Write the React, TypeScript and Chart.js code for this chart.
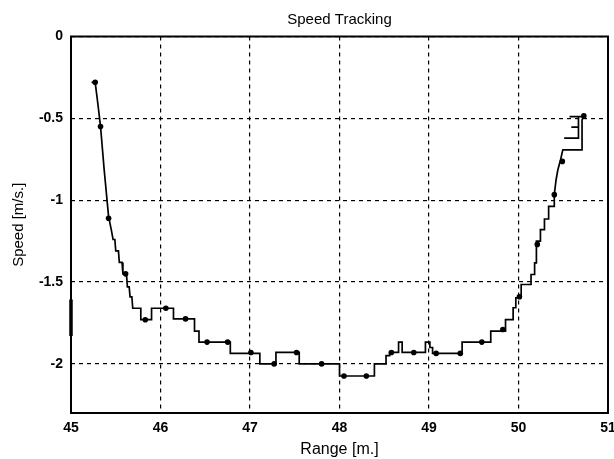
import React, { useEffect, useRef } from "react";
import { Chart, registerables } from "chart.js";

Chart.register(...registerables);

const chartTitle = "Speed Tracking";
const xTitle = "Range [m.]";
const yTitle = "Speed [m/s.]";
const xTicks = [45, 46, 47, 48, 49, 50, 51];
const yTicks = [0, -0.5, -1, -1.5, -2];
const yTickLabels = ["0", "-0.5", "-1", "-1.5", "-2"];

// staircase trace (range, speed)
const pathX = [
  45.23, 45.27, 45.3, 45.33, 45.37, 45.42, 45.45, 45.47, 45.49, 45.5, 45.53, 45.54, 45.57, 45.58,
  45.62, 45.63, 45.65, 45.66, 45.68, 45.69, 45.78, 45.78, 45.9, 45.9, 46.145, 46.145, 46.38, 46.38,
  46.43, 46.43, 46.78, 46.78, 47.11, 47.11, 47.29, 47.29, 47.55, 47.55, 48.0, 48.0, 48.39, 48.39,
  48.52, 48.52, 48.56, 48.56, 48.66, 48.66, 48.7, 48.7, 48.96, 48.96, 49.01, 49.01, 49.04, 49.04,
  49.37, 49.37, 49.69, 49.69, 49.855, 49.855, 49.94, 49.94, 49.97, 49.97, 50.03, 50.03, 50.14, 50.14,
  50.18, 50.18, 50.2, 50.2, 50.245, 50.245, 50.29, 50.29, 50.33, 50.33, 50.34, 50.34, 50.4, 50.4,
  50.42, 50.44, 50.47, 50.495, 50.71, 50.71, 50.73,
];
const pathY = [
  -0.28, -0.28, -0.41, -0.55, -0.81, -1.1, -1.18, -1.24, -1.24, -1.31, -1.31, -1.38, -1.38, -1.45,
  -1.45, -1.53, -1.53, -1.59, -1.59, -1.66, -1.66, -1.73, -1.73, -1.66, -1.66, -1.725, -1.725, -1.8,
  -1.8, -1.867, -1.867, -1.936, -1.936, -2.0, -2.0, -1.93, -1.93, -2.0, -2.0, -2.074, -2.074, -2.0,
  -2.0, -1.95, -1.95, -1.93, -1.93, -1.867, -1.867, -1.93, -1.93, -1.867, -1.867, -1.9, -1.9, -1.936,
  -1.936, -1.867, -1.867, -1.8, -1.8, -1.729, -1.729, -1.657, -1.657, -1.596, -1.596, -1.515, -1.515, -1.454,
  -1.454, -1.383, -1.383, -1.25, -1.25, -1.18, -1.18, -1.115, -1.115, -1.078, -1.078, -1.038, -1.038, -0.966,
  -0.875, -0.814, -0.753, -0.692, -0.692, -0.509, -0.485,
];

// extra overlapping steps near the end
const clutterX = [50.51, 50.67, 50.67, 50.59, 50.67, 50.67, 50.57, 50.74];
const clutterY = [-0.621, -0.621, -0.554, -0.554, -0.554, -0.489, -0.489, -0.489];

// sample markers
const markerX = [
  45.27, 45.33, 45.42, 45.61, 45.83, 46.06, 46.28, 46.52, 46.75, 47.01, 47.27, 47.52, 47.8, 48.05,
  48.3, 48.58, 48.83, 49.08, 49.35, 49.59, 49.825, 50.01, 50.21, 50.4, 50.49, 50.73,
];
const markerY = [
  -0.28, -0.55, -1.11, -1.45, -1.73, -1.66, -1.725, -1.867, -1.867, -1.93, -2.0, -1.93, -2.0, -2.074,
  -2.074, -1.93, -1.93, -1.936, -1.936, -1.867, -1.79, -1.59, -1.27, -0.966, -0.763, -0.485,
];

// stray mark on the left axis
const strayX = [45, 45];
const strayY = [-1.607, -1.83];

const zip = (xs: number[], ys: number[]) => xs.map((x, i) => ({ x, y: ys[i] }));

const FONT = "'Liberation Sans', Arial, Helvetica, sans-serif";

export default function App() {
  const ref = useRef<HTMLCanvasElement | null>(null);

  useEffect(() => {
    const canvas = ref.current;
    if (!canvas) return;
    const framePlugin = {
      id: "frame",
      afterDatasetsDraw(chart: any) {
        const { ctx, chartArea } = chart;
        ctx.save();
        ctx.strokeStyle = "#000";
        ctx.lineWidth = 2;
        ctx.strokeRect(chartArea.left, chartArea.top, chartArea.right - chartArea.left, chartArea.bottom - chartArea.top);
        ctx.fillStyle = "#000";
        ctx.font = `15px ${FONT}`;
        ctx.textAlign = "center";
        ctx.textBaseline = "middle";
        ctx.fillText(chartTitle, (chartArea.left + chartArea.right) / 2, 20);
        ctx.restore();
      },
    };
    const chart = new Chart(canvas, {
      type: "scatter",
      data: {
        datasets: [
          {
            data: zip(pathX, pathY),
            showLine: true,
            borderColor: "#000",
            borderWidth: 1.7,
            pointRadius: 0,
            tension: 0,
          },
          {
            data: zip(clutterX, clutterY),
            showLine: true,
            borderColor: "#000",
            borderWidth: 1.7,
            pointRadius: 0,
          },
          {
            data: zip(markerX, markerY),
            showLine: false,
            pointRadius: 2.8,
            pointBackgroundColor: "#000",
            pointBorderColor: "#000",
            pointBorderWidth: 0,
          },
          {
            data: zip(strayX, strayY),
            showLine: true,
            borderColor: "#000",
            borderWidth: 3.5,
            pointRadius: 0,
            clip: false as any,
          },
        ],
      },
      options: {
        responsive: false,
        animation: false,
        devicePixelRatio: 1,
        layout: { padding: { left: 0, right: 6, top: 0, bottom: 0 } },
        plugins: {
          legend: { display: false },
          tooltip: { enabled: false },
          title: {
            display: true,
            text: chartTitle,
            color: "rgba(0,0,0,0)",
            font: { family: FONT, size: 15, weight: "normal" },
            padding: { top: 11, bottom: 7.5 },
          },
        },
        scales: {
          x: {
            type: "linear",
            min: 45,
            max: 51,
            afterBuildTicks: (s: any) => {
              s.ticks = xTicks.map((v) => ({ value: v }));
            },
            afterFit: (s: any) => {
              s.height = 46;
              s.paddingRight = 0;
              s.paddingLeft = 0;
            },
            ticks: {
              color: "#000",
              padding: 7,
              maxRotation: 0,
              font: { family: FONT, size: 14, weight: "bold" },
              callback: (v: any) => String(v),
            },
            grid: {
              color: "#000",
              lineWidth: 1.2,
              drawTicks: false,
            },
            border: { display: false, dash: [4, 4] },
            title: {
              display: true,
              text: xTitle,
              color: "#000",
              font: { family: FONT, size: 16, weight: "normal" },
              padding: { top: 0, bottom: 0 },
            },
          },
          y: {
            type: "linear",
            min: -2.3,
            max: 0,
            afterBuildTicks: (s: any) => {
              s.ticks = yTicks.map((v) => ({ value: v }));
            },
            afterFit: (s: any) => {
              s.width = 71;
            },
            ticks: {
              color: "#000",
              padding: 8,
              font: { family: FONT, size: 14, weight: "bold" },
              callback: (v: any) => {
                const i = yTicks.indexOf(Number(v));
                return i >= 0 ? yTickLabels[i] : "";
              },
            },
            grid: {
              color: "#000",
              lineWidth: 1.2,
              drawTicks: false,
            },
            border: { display: false, dash: [4, 4] },
            title: {
              display: true,
              text: yTitle,
              color: "#000",
              font: { family: FONT, size: 15, weight: "normal" },
              padding: { top: 10, bottom: 0 },
            },
          },
        },
      },
      plugins: [framePlugin],
    });
    return () => chart.destroy();
  }, []);

  return (
    <div style={{ position: "absolute", left: 0, top: 0, width: 614, height: 459, background: "#fff" }}>
      <canvas ref={ref} width={614} height={459} />
    </div>
  );
}
